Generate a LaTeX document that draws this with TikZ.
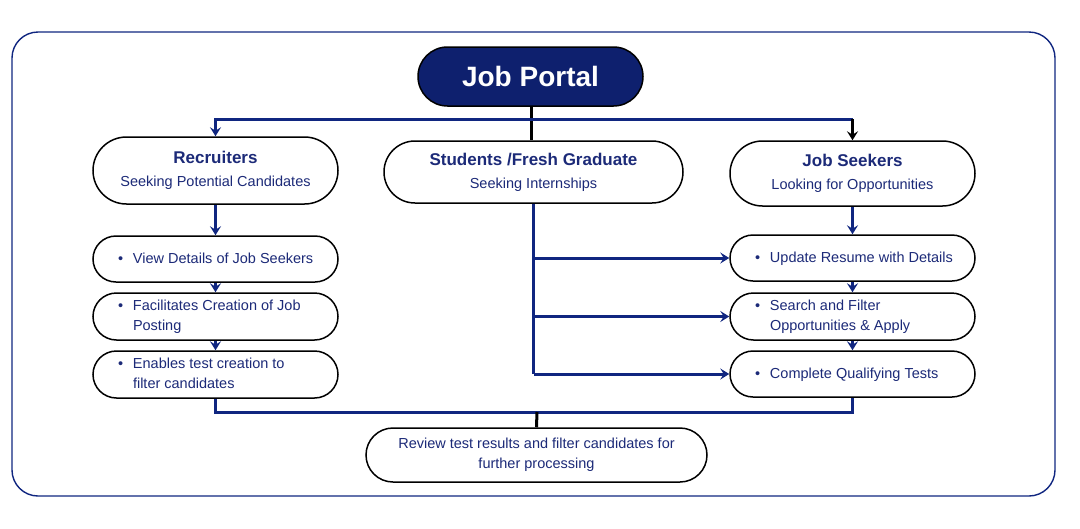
\documentclass[tikz,border=0pt]{standalone}
\usepackage{fontspec}
\setmainfont{Liberation Sans}
\usetikzlibrary{shapes.misc,arrows.meta}
\definecolor{portalnavy}{RGB}{14,32,110}
\definecolor{linkblue}{RGB}{16,38,128}
\definecolor{textnavy}{RGB}{28,42,120}
\newcommand{\bul}[1]{\makebox[195pt][l]{\makebox[15pt][l]{\textbullet}\begin{tabular}[t]{@{}l@{}}#1\end{tabular}}}
\newcommand{\headtxt}[2]{{\bfseries\fontsize{17}{20}\selectfont #1}\\[3pt]#2}
\tikzset{
  pill/.style={rounded rectangle, draw=black, line width=1.5pt, fill=white, minimum width=245pt, inner sep=0pt, text=textnavy, font=\fontsize{14.5}{20}\selectfont},
  link/.style={draw=linkblue, line width=3pt},
  tip/.style={-{Stealth[length=9pt,width=11pt,inset=3.5pt]}},
}
\begin{document}
\begin{tikzpicture}[x=1pt,y=-1pt]
			%%%%% START %%%%%
			\useasboundingbox (0,0) rectangle (1080,528);
			\draw[draw=linkblue, line width=1.4pt, rounded corners=26pt] (12,32) rectangle (1055,496);
			
			\node[pill, fill=portalnavy, minimum width=225pt, minimum height=59pt, text=white, font=\bfseries\fontsize{28}{30}\selectfont] (portal) at (530.5,76.5) {Job Portal};
			
			\node[pill, minimum height=67pt, align=center] (recruiters) at (215.5,170.5) {\headtxt{Recruiters}{Seeking Potential Candidates}};
			\node[pill, minimum width=299pt, minimum height=62pt, align=center] (students) at (533.5,172) {\headtxt{Students /Fresh Graduate}{Seeking Internships}};
			\node[pill, minimum height=65pt, align=center] (seekers) at (852.5,173.5) {\headtxt{Job Seekers}{Looking for Opportunities}};
			
			\node[pill, minimum height=46pt] (view) at (215.5,259) {\bul{View Details of Job Seekers}};
			\node[pill, minimum height=47pt] (facil) at (215.5,316.5) {\bul{Facilitates Creation of Job\\Posting}};
			\node[pill, minimum height=47pt] (enables) at (215.5,374.5) {\bul{Enables test creation to\\filter candidates}};
			
			\node[pill, minimum height=46pt] (update) at (852.5,258) {\bul{Update Resume with Details}};
			\node[pill, minimum height=47pt] (search) at (852.5,316.5) {\bul{Search and Filter\\Opportunities \& Apply}};
			\node[pill, minimum height=46pt] (complete) at (852.5,374) {\bul{Complete Qualifying Tests}};
			
			\node[pill, minimum width=341pt, minimum height=54pt, align=center] (review) at (536.5,455) {Review test results and filter candidates for\\further processing};
			
			\coordinate (bus) at (531,119);
			\coordinate (merge) at (537,412);
			
			\draw[line width=3pt] (portal.south -| bus) -- (bus |- students.north);
			\draw[link, tip] (bus) -| (recruiters.north);
			\draw[link] (bus) -- (bus -| seekers.north);
			\draw[line width=3pt, tip] (bus -| seekers.north) -- (seekers.north);
			
			\draw[link, tip] (recruiters.south) -- (view.north);
			\draw[link, tip] (view.south) -- (facil.north);
			\draw[link, tip] (facil.south) -- (enables.north);
			
			\draw[link, tip] (seekers.south) -- (update.north);
			\draw[link, tip] (update.south) -- (search.north);
			\draw[link, tip] (search.south) -- (complete.north);
			
			\draw[link] (students.south) -- (students.south |- complete.west);
			\draw[link, tip] (students.south |- update.west) -- (update.west);
			\draw[link, tip] (students.south |- search.west) -- (search.west);
			\draw[link, tip] (students.south |- complete.west) -- (complete.west);
			
			\draw[link] (enables.south) |- (merge) -| (complete.south);
			\draw[line width=3pt] (merge) -- (review.north);
			%%%%% END %%%%%
\end{tikzpicture}
\end{document}
